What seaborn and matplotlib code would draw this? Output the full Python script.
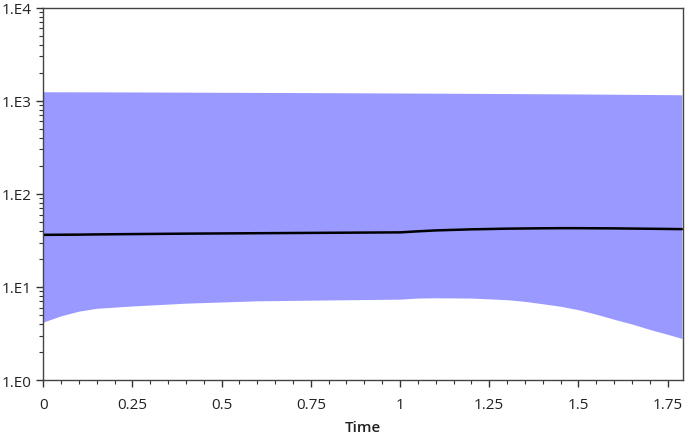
import numpy as np
import pandas as pd
import matplotlib
matplotlib.use("Agg")
import matplotlib.pyplot as plt
import matplotlib.ticker as mticker
import seaborn as sns

# values (log scale)
time = [0, 0.05, 0.1, 0.15, 0.25, 0.4, 0.6, 0.8, 1.0, 1.05, 1.1, 1.2, 1.3, 1.35,
        1.4, 1.45, 1.5, 1.55, 1.6, 1.65, 1.7, 1.75, 1.79]
lower = [4.2, 4.9, 5.5, 5.9, 6.25, 6.7, 7.1, 7.25, 7.4, 7.6, 7.65, 7.6, 7.3, 7.0,
         6.6, 6.2, 5.7, 5.1, 4.5, 4.0, 3.5, 3.1, 2.8]
median = [36.3, 36.4, 36.5, 36.7, 37.0, 37.4, 37.8, 38.2, 38.6, 39.6, 40.5, 41.6, 42.3, 42.5,
          42.7, 42.8, 42.8, 42.7, 42.6, 42.4, 42.2, 42.0, 41.8]
upper = [1250, 1249, 1248, 1247, 1244, 1238, 1230, 1222, 1212, 1210, 1207, 1202, 1196, 1193,
         1190, 1187, 1184, 1180, 1176, 1172, 1168, 1164, 1160]

df = pd.DataFrame({"Time": time, "lower": lower, "median": median, "upper": upper})

sns.set_theme(style="ticks")
plt.rcParams["font.family"] = ["Open Sans", "DejaVu Sans"]

fig, ax = plt.subplots(figsize=(6.85, 4.35), dpi=100)
ax.fill_between(df["Time"], df["lower"], df["upper"], color="#9999ff", linewidth=0)
sns.lineplot(data=df, x="Time", y="median", ax=ax, color="black", linewidth=1.8)

ax.set_yscale("log")
ax.set_ylim(1, 1e4)
ax.set_xlim(0, 1.793)
ax.set_xticks([0, 0.25, 0.5, 0.75, 1, 1.25, 1.5, 1.75])
ax.set_xticklabels(["0", "0.25", "0.5", "0.75", "1", "1.25", "1.5", "1.75"])
ax.xaxis.set_minor_locator(mticker.MultipleLocator(0.05))
ax.yaxis.set_major_locator(mticker.LogLocator(base=10))
ax.yaxis.set_minor_locator(mticker.LogLocator(base=10, subs=np.arange(2, 10)))
ax.yaxis.set_minor_formatter(mticker.NullFormatter())
ax.yaxis.set_major_formatter(mticker.FuncFormatter(lambda v, _: f"1.E{int(round(np.log10(v)))}"))

ax.set_xlabel("Time", fontsize=11, fontweight="semibold", color="#222222", labelpad=6)
ax.set_ylabel("")
ax.tick_params(axis="both", which="major", labelsize=11, length=5, width=1,
               color="#333333", labelcolor="#222222")
ax.tick_params(axis="x", which="major", pad=7)
ax.tick_params(axis="both", which="minor", length=3, width=0.8, color="#333333")
for sp in ax.spines.values():
    sp.set_color("#444444")
    sp.set_linewidth(1)

fig.subplots_adjust(left=0.063, right=0.997, top=0.98, bottom=0.124)
fig.savefig("out.png", dpi=100)
